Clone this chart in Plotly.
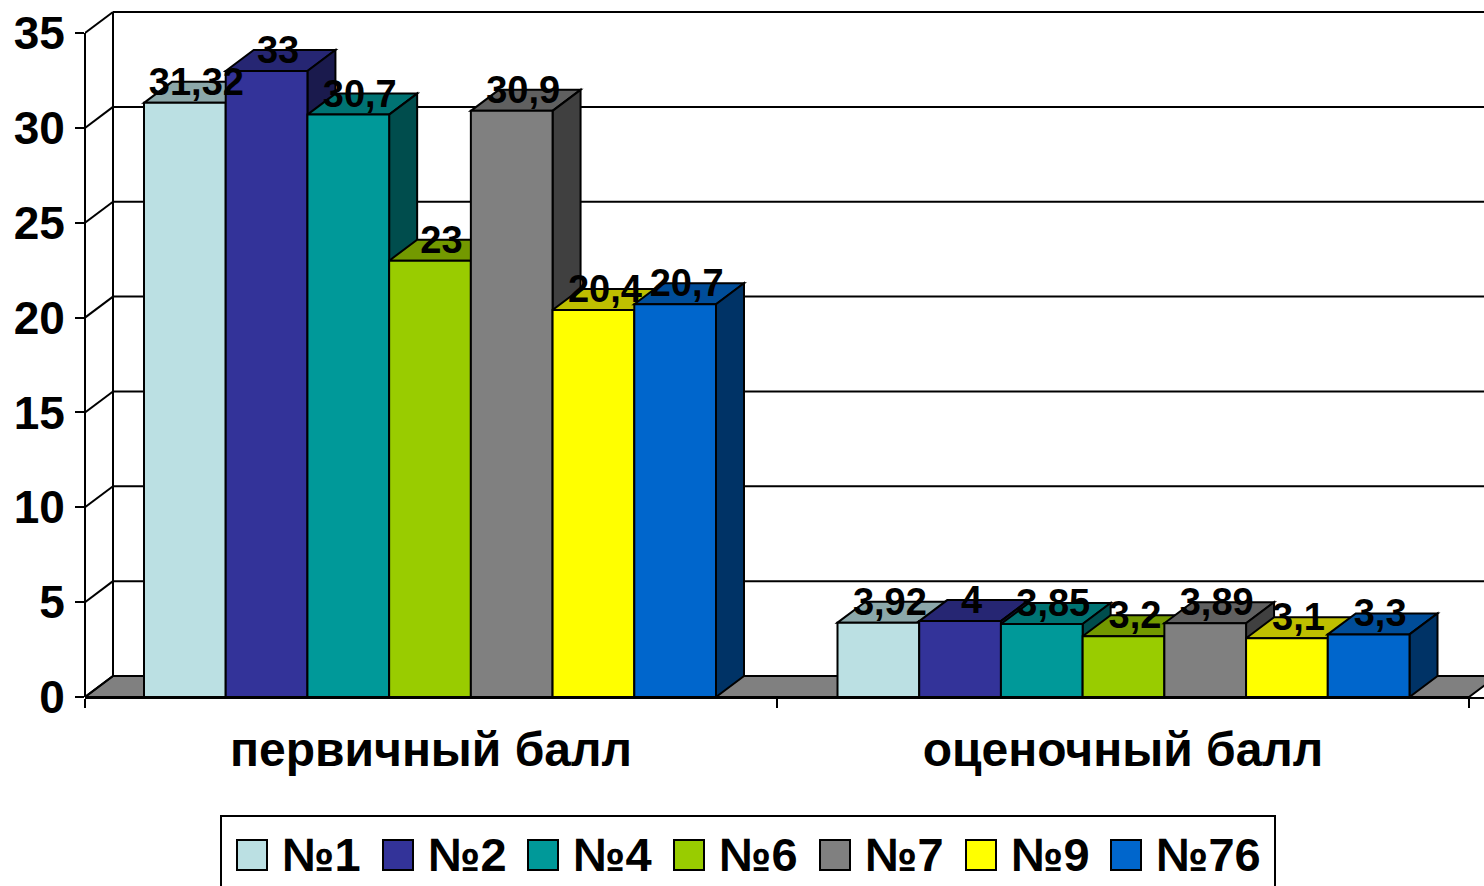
import plotly.graph_objects as go

categories = ["первичный балл", "оценочный балл"]
series_names = ["№1", "№2", "№4", "№6", "№7", "№9", "№76"]
primary_scores = [31.32, 33, 30.7, 23, 30.9, 20.4, 20.7]
rated_scores = [3.92, 4, 3.85, 3.2, 3.89, 3.1, 3.3]
front_colors = ["#BBE0E3", "#333399", "#009999", "#99CC00", "#808080", "#FFFF00", "#0066CC"]
top_colors = ["#8CA8AA", "#262673", "#007373", "#739900", "#606060", "#BFBF00", "#004D99"]
side_colors = ["#5E7072", "#1A1A4D", "#004D4D", "#4D6600", "#404040", "#808000", "#003366"]
y_ticks = [0, 5, 10, 15, 20, 25, 30, 35]

W, H = 1484, 886
L, T, B = 85, 8, 697        # plot area pixels
CAT_PX = 692                # pixels per category
Y_PX = 18.97                # pixels per y unit
BAR_GAP = 120 / CAT_PX
BAR_W = (1 - BAR_GAP) / len(series_names)
GROUP_X = [0 - 1 / CAT_PX, 1 + 0.5 / CAT_PX]   # bar group centres on the axis
DX = 28 / CAT_PX            # 3D depth in axis units
DY = 21 / Y_PX
X0, X1 = -0.5, -0.5 + (W - L) / CAT_PX
Y1 = (B - T) / Y_PX
LW = 2
LABEL_DX = 11.5 / CAT_PX    # data label offset from the bar's front centre
LABEL_DY = 17.5 / Y_PX


def poly(points, fill, width=LW):
    d = "M" + " L".join(f"{x:.5f},{y:.5f}" for x, y in points) + " Z"
    return dict(type="path", path=d, xref="x", yref="y", layer="below",
                fillcolor=fill, line=dict(color="black", width=width))


def seg(x0, y0, x1, y1, width=LW):
    return dict(type="line", xref="x", yref="y", layer="below", x0=x0, y0=y0, x1=x1, y1=y1,
                line=dict(color="black", width=width))


def px_x(p):
    return (p - L) / (W - L)


def px_y(p):
    return (B - p) / (B - T)


shapes = []
# floor
shapes.append(poly([(X0, 0), (X0 + DX, DY), (X1 + DX, DY), (1.5 + DX, DY), (1.5, 0)], "#808080"))
# walls
shapes.append(seg(X0 + DX, DY, X0 + DX, 35 + DY))
for t in y_ticks:
    if t > 0:
        shapes.append(seg(X0 + DX, t + DY, X1, t + DY))
    shapes.append(seg(X0, t, X0 + DX, t + DY))
# y axis line, unclipped on x
shapes.append(dict(type="line", xref="paper", yref="y", layer="above", x0=0, x1=0, y0=0, y1=35,
                   line=dict(color="black", width=LW)))

fig = go.Figure()
for i, name in enumerate(series_names):
    vals = [primary_scores[i], rated_scores[i]]
    fig.add_trace(go.Bar(name=name, x=GROUP_X, y=vals, width=BAR_W,
                         offset=[-0.5 * (1 - BAR_GAP) + i * BAR_W] * 2,
                         marker=dict(color=front_colors[i], line=dict(color="black", width=LW)),
                         showlegend=False, hoverinfo="name+y"))
    for gx, v in zip(GROUP_X, vals):
        xa = gx - 0.5 * (1 - BAR_GAP) + i * BAR_W
        xb = xa + BAR_W
        shapes.append(poly([(xa, v), (xa + DX, v + DY), (xb + DX, v + DY), (xb, v)], top_colors[i]))
        shapes.append(poly([(xb, v), (xb + DX, v + DY), (xb + DX, DY), (xb, 0)], side_colors[i]))

for i, name in enumerate(series_names):
    vals = [primary_scores[i], rated_scores[i]]
    xs = [gx - 0.5 * (1 - BAR_GAP) + (i + 0.5) * BAR_W + LABEL_DX for gx in GROUP_X]
    fig.add_trace(go.Scatter(x=xs, y=[v + LABEL_DY for v in vals], mode="text",
                             text=[str(v).replace(".", ",") for v in vals], textposition="middle center",
                             textfont=dict(size=38, color="black", family="Liberation Sans", weight="bold"),
                             showlegend=False, hoverinfo="skip", cliponaxis=False))

# legend
annotations = []
shapes.append(dict(type="rect", xref="paper", yref="paper", x0=px_x(221), x1=px_x(1275), y0=px_y(892), y1=px_y(816),
                   fillcolor="white", line=dict(color="black", width=LW)))
swatch_x = [237, 383, 528, 674, 820, 966, 1111]
for sx, name, col in zip(swatch_x, series_names, front_colors):
    shapes.append(dict(type="rect", xref="paper", yref="paper", x0=px_x(sx), x1=px_x(sx + 30), y0=px_y(870), y1=px_y(840),
                       fillcolor=col, line=dict(color="black", width=LW)))
    annotations.append(dict(xref="paper", yref="paper", x=px_x(sx + 43), y=px_y(855), text=name, showarrow=False,
                            xanchor="left", yanchor="middle",
                            font=dict(size=47, color="black", family="Liberation Sans", weight="bold")))

fig.update_layout(
    width=W, height=H, autosize=False,
    margin=dict(l=L, r=0, t=T, b=H - B, pad=0),
    paper_bgcolor="white", plot_bgcolor="white",
    barmode="overlay",
    shapes=shapes, annotations=annotations, showlegend=False,
    font=dict(family="Liberation Sans", color="black"),
    xaxis=dict(range=[X0, X1], tickmode="array", tickvals=[0, 1], ticktext=categories, ticks="", ticklen=0,
               showgrid=False, zeroline=False, showline=True, linecolor="black", linewidth=LW,
               tickfont=dict(size=48, family="Liberation Sans", color="black", weight="bold"),
               ticklabelstandoff=9,
               minor=dict(tickmode="array", tickvals=[-0.5, 0.5, 1.5], ticks="outside", ticklen=9, tickwidth=LW,
                          tickcolor="black", showgrid=False)),
    yaxis=dict(range=[0, Y1], tickmode="array", tickvals=y_ticks, ticks="outside", ticklen=9, tickwidth=LW,
               tickcolor="black", showgrid=False, zeroline=False, showline=False,
               tickfont=dict(size=46, family="Liberation Sans", color="black", weight="bold"),
               ticklabelstandoff=1),
)

fig.write_html("out.html", config=dict(displayModeBar=False),
               post_script="document.body.style.margin='0';document.body.style.overflow='hidden';")
